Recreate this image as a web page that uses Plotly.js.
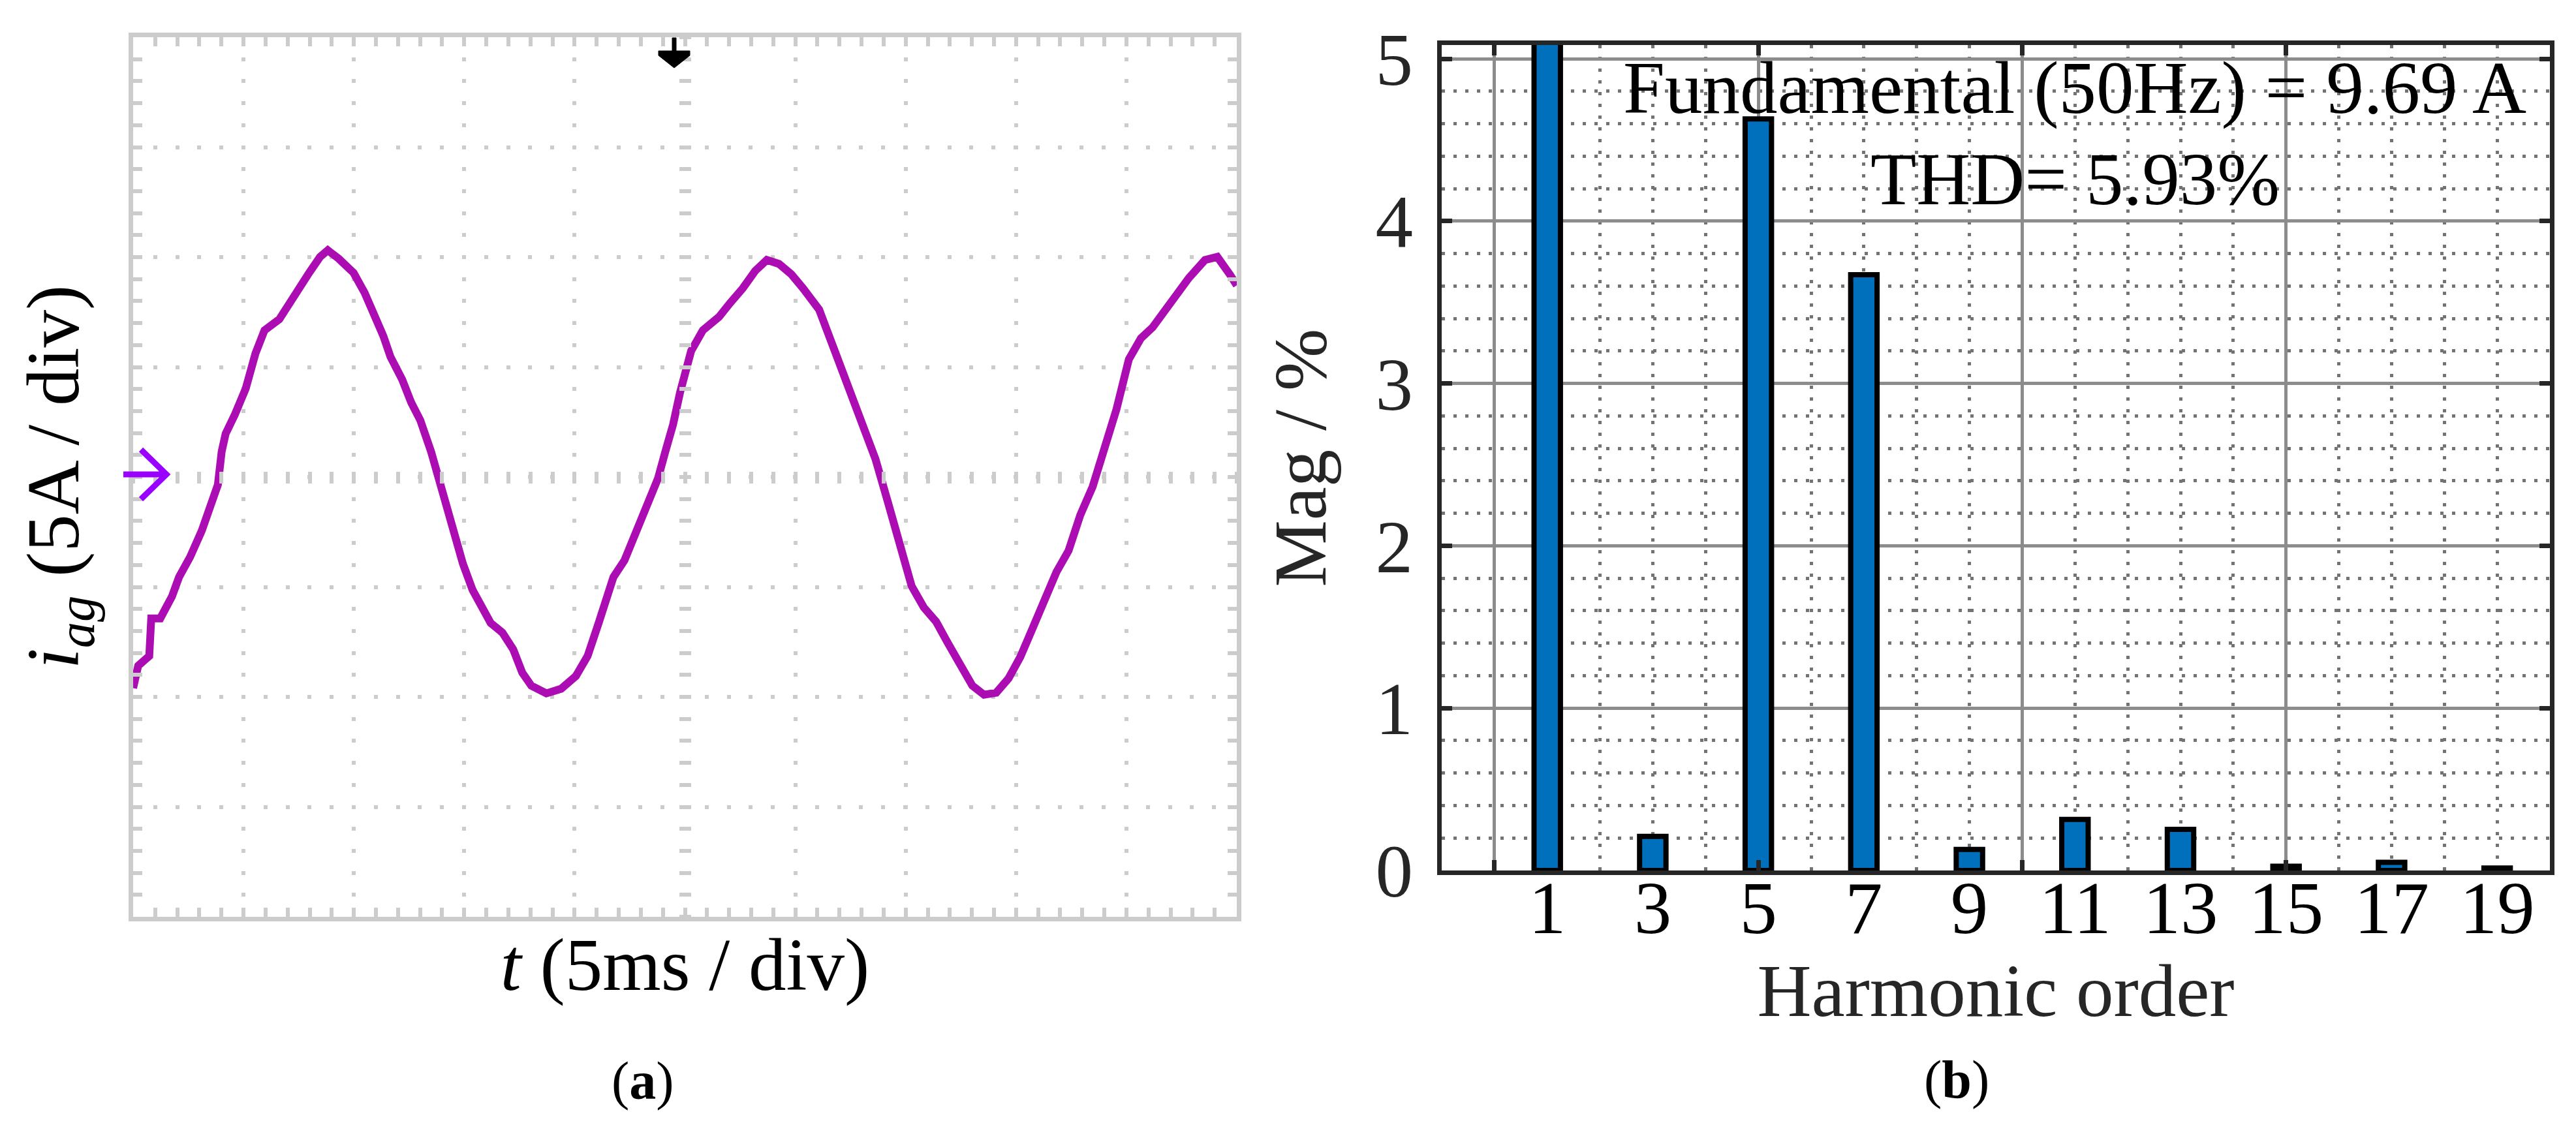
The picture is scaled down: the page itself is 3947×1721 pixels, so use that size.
<!DOCTYPE html>
<html>
<head>
<meta charset="utf-8">
<script src="https://cdn.plot.ly/plotly-3.0.1.min.js"></script>
<style>
html,body{margin:0;padding:0;background:#fff;}
#chart{width:3947px;height:1721px;}
</style>
</head>
<body>
<div id="chart"></div>
<script>
// ---------- (a) oscilloscope trace: time in ms (5 ms/div), current in A (5 A/div)
const timeMs = [0, 0.23, 0.73, 0.82, 1.23, 1.76, 2.08, 2.58, 3.11, 3.51,
  3.84, 4.01, 4.19, 4.60, 5.10, 5.54, 5.95, 6.62, 7.03, 7.47,
  7.97, 8.47, 8.82, 9.31, 9.99, 10.49, 10.98, 11.34, 11.66, 12.19,
  12.60, 13.01, 13.50, 13.85, 14.18, 14.53, 14.94, 15.38, 15.79, 16.20,
  16.73, 17.22, 17.63, 18.04, 18.72, 19.39, 20.06, 20.59, 21.09, 21.41,
  21.76, 22.26, 22.76, 23.11, 23.43, 23.78, 24.11, 24.46, 24.78, 25.28,
  25.81, 26.54, 27.06, 27.62, 28.18, 28.71, 29.26, 29.82, 30.35, 31.08,
  31.81, 32.54, 33.10, 33.63, 34.18, 34.74, 35.27, 35.82, 36.38, 36.91,
  37.46, 38.02, 38.55, 39.10, 39.66, 40.19, 40.74, 41.27, 41.83, 42.38,
  42.91, 43.47, 44.02, 44.55, 45.11, 45.66, 46.19, 46.75, 47.30, 47.83,
  48.56, 49.12, 49.68, 50.00];
const currentA = [-9.60, -8.58, -8.14, -6.43, -6.43, -5.43, -4.55, -3.64, -2.44, -1.41,
  -0.35, 1.15, 1.97, 2.82, 4.02, 5.61, 6.67, 7.17, 7.84, 8.49,
  9.28, 10.01, 10.31, 9.93, 9.28, 8.37, 7.31, 6.40, 5.46, 4.43,
  3.38, 2.58, 1.15, -0.06, -1.09, -2.58, -3.94, -5.14, -5.90, -6.64,
  -7.08, -7.84, -8.90, -9.49, -9.84, -9.63, -9.05, -8.14, -6.64, -5.76,
  -4.55, -3.79, -2.58, -1.70, -0.94, -0.06, 1.15, 2.38, 3.85, 5.73,
  6.67, 7.28, 7.93, 8.58, 9.37, 9.87, 9.69, 9.22, 8.58, 7.61,
  5.67, 3.73, 2.11, 0.82, -1.09, -3.02, -4.96, -5.93, -6.58, -7.55,
  -8.52, -9.49, -9.90, -9.81, -9.16, -8.19, -6.90, -5.61, -4.32, -3.35,
  -1.73, -0.44, 1.47, 3.08, 5.35, 6.31, 6.81, 7.61, 8.25, 9.05,
  9.87, 10.01, 9.22, 8.72];

// ---------- (b) harmonic spectrum (% of fundamental)
const harmonicOrder = [1, 3, 5, 7, 9, 11, 13, 15, 17, 19];
const magnitudePct = [100, 0.21, 4.63, 3.67, 0.13, 0.315, 0.253, 0.026, 0.05, 0.015];
const harmonicTickText = ['1', '3', '5', '7', '9', '11', '13', '15', '17', '19'];
const magTickVals = [0, 1, 2, 3, 4, 5];
const gridTickVals = [0, 5, 10, 15, 20];
const fundamentalText = 'Fundamental (50Hz) = 9.69 A';
const thdText = 'THD= 5.93%';

// ---------- layout helpers
const W = 3947, H = 1721;
const fx = p => p / W;
const fy = p => 1 - p / H;
const SERIF = '"Liberation Serif", "Times New Roman", Times, serif';
const SCOPE = '#cccccc';
const DARK = '#262626';

const traces = [
  {
    type: 'scatter', mode: 'lines', x: timeMs, y: currentA,
    xaxis: 'x', yaxis: 'y',
    line: {color: '#ab0db3', width: 12},
    hoverinfo: 'skip'
  },
  // helpers so the overlay axes (centre crosshair ticks / harmonic labels) get drawn
  {type: 'scatter', mode: 'lines', x: [], y: [], xaxis: 'x3', yaxis: 'y', hoverinfo: 'skip'},
  {type: 'scatter', mode: 'lines', x: [], y: [], xaxis: 'x', yaxis: 'y3', hoverinfo: 'skip'},
  {
    type: 'bar', x: harmonicOrder, y: magnitudePct,
    xaxis: 'x2', yaxis: 'y2', width: 0.5,
    marker: {color: '#0070bd', line: {color: '#000000', width: 8}},
    hoverinfo: 'skip'
  },
  {type: 'scatter', mode: 'lines', x: [], y: [], xaxis: 'x4', yaxis: 'y2', hoverinfo: 'skip'}
];

const scopeXDom = [fx(204), fx(1895)];
const scopeYDom = [fy(1405), fy(57)];

const layout = {
  width: W, height: H,
  margin: {l: 0, r: 0, t: 0, b: 0},
  paper_bgcolor: '#ffffff', plot_bgcolor: '#ffffff',
  showlegend: false,
  font: {family: SERIF, color: '#000000', size: 115},

  // ----- oscilloscope frame
  xaxis: {
    domain: scopeXDom, anchor: 'y', range: [0, 50], fixedrange: true,
    tick0: 0, dtick: 5,
    ticks: 'inside', ticklen: 14, tickwidth: 6, tickcolor: SCOPE,
    showline: true, linewidth: 7, linecolor: SCOPE, mirror: 'ticks',
    showgrid: true, gridcolor: SCOPE, gridwidth: 6, griddash: '3px,27.7px,3px,0px',
    minor: {tick0: 0, dtick: 1, ticks: 'inside', ticklen: 14, tickwidth: 6, tickcolor: SCOPE, showgrid: false},
    zeroline: false, showticklabels: false,
    title: {text: '<i>t</i> (5ms / div)', font: {size: 115, color: '#000000'}, standoff: 28}
  },
  yaxis: {
    domain: scopeYDom, anchor: 'x', range: [-20, 20], fixedrange: true,
    tick0: 0, dtick: 5,
    ticks: 'inside', ticklen: 14, tickwidth: 6, tickcolor: SCOPE,
    showline: true, linewidth: 7, linecolor: SCOPE, mirror: 'ticks',
    showgrid: true, gridcolor: SCOPE, gridwidth: 6, griddash: '3px,27.8px,3px,0px',
    minor: {tick0: 0, dtick: 1, ticks: 'inside', ticklen: 14, tickwidth: 6, tickcolor: SCOPE, showgrid: false},
    zeroline: false, showticklabels: false,
    title: {text: '<i>i</i><sub><i>ag</i></sub> (5A / div)', font: {size: 115, color: '#000000'}, standoff: 40}
  },
  // centre crosshair tick marks
  xaxis3: {
    overlaying: 'x', anchor: 'free', position: fy(731 - 9), side: 'bottom',
    range: [0, 50], fixedrange: true, tick0: 0, dtick: 1,
    ticks: 'outside', ticklen: 18, tickwidth: 6, tickcolor: SCOPE,
    showline: false, showgrid: false, zeroline: false, showticklabels: false
  },
  yaxis3: {
    overlaying: 'y', anchor: 'free', position: fx(1049.5 + 9), side: 'left',
    range: [-20, 20], fixedrange: true, tick0: 0, dtick: 1,
    ticks: 'outside', ticklen: 18, tickwidth: 6, tickcolor: SCOPE,
    showline: false, showgrid: false, zeroline: false, showticklabels: false
  },

  // ----- harmonic spectrum
  xaxis2: {
    domain: [fx(2209), fx(3907)], anchor: 'y2', range: [-1, 20], fixedrange: true,
    tickmode: 'array', tickvals: gridTickVals, showticklabels: false,
    ticks: 'inside', ticklen: 16, tickwidth: 7, tickcolor: DARK,
    showline: true, linewidth: 7, linecolor: DARK, mirror: 'ticks',
    showgrid: true, gridcolor: '#8c8c8c', gridwidth: 5,
    minor: {tick0: 0, dtick: 1, ticks: '', showgrid: true, gridcolor: '#737373', gridwidth: 5, griddash: '5px,13px'},
    zeroline: false
  },
  yaxis2: {
    domain: [fy(1334), fy(69)], anchor: 'x2', range: [0, 5.085], fixedrange: true,
    tickmode: 'array', tickvals: magTickVals,
    ticks: 'inside', ticklen: 16, tickwidth: 7, tickcolor: DARK,
    showline: true, linewidth: 7, linecolor: DARK, mirror: 'ticks',
    showgrid: true, gridcolor: '#8c8c8c', gridwidth: 5,
    minor: {tick0: 0, dtick: 0.2, ticks: '', showgrid: true, gridcolor: '#737373', gridwidth: 5, griddash: '5px,13px'},
    zeroline: false,
    tickfont: {size: 115, color: DARK}, ticklabelstandoff: 14,
    title: {text: 'Mag / %', font: {size: 115, color: DARK}, standoff: 40}
  },
  xaxis4: {
    overlaying: 'x2', anchor: 'y2', side: 'bottom', range: [-1, 20], fixedrange: true,
    tickmode: 'array', tickvals: harmonicOrder, ticktext: harmonicTickText,
    ticks: '', showline: false, showgrid: false, zeroline: false,
    tickfont: {size: 115, color: '#000000'}, ticklabelstandoff: -20,
    title: {text: 'Harmonic order', font: {size: 115, color: DARK}, standoff: 6}
  },

  annotations: [
    {xref: 'x2', yref: 'y2', x: 11, y: 4.82, text: fundamentalText, showarrow: false,
     xanchor: 'center', yanchor: 'middle', font: {size: 115, color: '#000000'}},
    {xref: 'x2', yref: 'y2', x: 11, y: 4.26, text: thdText, showarrow: false,
     xanchor: 'center', yanchor: 'middle', font: {size: 115, color: '#000000'}},
    {xref: 'paper', yref: 'paper', x: fx(985), y: fy(1656), text: '(<b>a</b>)', showarrow: false,
     xanchor: 'center', yanchor: 'middle', font: {size: 82, color: '#000000'}},
    {xref: 'paper', yref: 'paper', x: fx(2998), y: fy(1654), text: '(<b>b</b>)', showarrow: false,
     xanchor: 'center', yanchor: 'middle', font: {size: 82, color: '#000000'}}
  ],

  shapes: [
    // trigger marker at top
    {type: 'path', xref: 'paper', yref: 'paper', xsizemode: 'pixel', ysizemode: 'pixel',
     xanchor: fx(1033), yanchor: fy(53),
     path: 'M -3,-5 L 3,-5 L 3,-25 L 24,-25 L 24,-32 L 0,-51 L -24,-32 L -24,-25 L -3,-25 Z',
     fillcolor: '#000000', line: {color: '#000000', width: 1}},
    // channel ground-level arrow
    {type: 'path', xref: 'paper', yref: 'paper', xsizemode: 'pixel', ysizemode: 'pixel',
     xanchor: fx(204), yanchor: fy(731),
     path: 'M -15,4 L 51,4 M 12,42 L 51,4 L 12,-34',
     line: {color: '#9900ff', width: 9}}
  ]
};

Plotly.newPlot('chart', traces, layout, {displayModeBar: false, staticPlot: true});
</script>
</body>
</html>
